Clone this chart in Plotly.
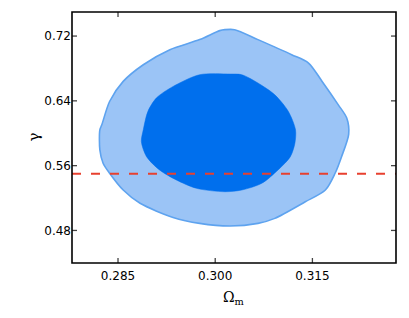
import plotly.graph_objects as go

# Outer (2-sigma) contour outline
outer_om = [0.3015, 0.3030, 0.3066, 0.3118, 0.3144, 0.3165, 0.3190, 0.3203, 0.3206,
            0.3195, 0.3185, 0.3170, 0.3139, 0.3092, 0.3066, 0.3023, 0.2976, 0.2935, 0.2884,
            0.2858, 0.2837, 0.2827, 0.2822, 0.2822, 0.2825, 0.2837, 0.2858, 0.2889, 0.2930,
            0.2976, 0.3007]
outer_gamma = [0.7279, 0.7279, 0.7156, 0.6970, 0.6867, 0.6640, 0.6351, 0.6187, 0.5990,
               0.5711, 0.5506, 0.5299, 0.5154, 0.4949, 0.4887, 0.4854, 0.4887, 0.4961, 0.5135,
               0.5299, 0.5506, 0.5630, 0.5794, 0.6042, 0.6104, 0.6392, 0.6640, 0.6846, 0.7032,
               0.7156, 0.7267]

# Inner (1-sigma) contour outline
inner_om = [0.3023, 0.3041, 0.3066, 0.3092, 0.3113, 0.3124, 0.3123, 0.3116, 0.3097, 0.3072,
            0.3041, 0.3015, 0.2971, 0.2940, 0.2914, 0.2894, 0.2886, 0.2889, 0.2896, 0.2909,
            0.2935, 0.2976]
inner_gamma = [0.6731, 0.6723, 0.6620, 0.6475, 0.6268, 0.6042, 0.5877, 0.5711, 0.5547, 0.5382,
               0.5299, 0.5278, 0.5320, 0.5423, 0.5547, 0.5711, 0.5897, 0.6042, 0.6268, 0.6434,
               0.6578, 0.6723]

gamma_gr = 0.55

x_ticks = [0.285, 0.300, 0.315]
x_ticklabels = ["0.285", "0.300", "0.315"]
y_ticks = [0.48, 0.56, 0.64, 0.72]
y_ticklabels = ["0.48", "0.56", "0.64", "0.72"]

x_range = [0.2779, 0.3279]
y_range = [0.4398, 0.7497]

W, H = 409, 318
ML, MR, MT, MB = 72, 13, 12, 55
TICK_PX = 5

fig = go.Figure()
fig.add_trace(go.Scatter(
    x=outer_om + [outer_om[0]], y=outer_gamma + [outer_gamma[0]],
    mode="lines", fill="toself", fillcolor="#9bc4f6",
    line=dict(color="#5ea3ef", width=1.6, shape="spline", smoothing=0.8),
    hoverinfo="skip", showlegend=False))
fig.add_trace(go.Scatter(
    x=inner_om + [inner_om[0]], y=inner_gamma + [inner_gamma[0]],
    mode="lines", fill="toself", fillcolor="#006fed",
    line=dict(color="#006fed", width=0.5, shape="spline", smoothing=0.8),
    hoverinfo="skip", showlegend=False))
fig.add_trace(go.Scatter(
    x=x_range, y=[gamma_gr, gamma_gr], mode="lines",
    line=dict(color="#e8402f", width=1.8, dash="9px,10px"),
    hoverinfo="skip", showlegend=False))

tfont = dict(family="DejaVu Sans", size=12, color="black")
fig.update_xaxes(range=x_range, tickvals=x_ticks, ticktext=x_ticklabels, tickfont=tfont,
                 showline=False, ticks="", showgrid=False, zeroline=False,
                 ticklabelstandoff=4)
fig.update_yaxes(range=y_range, tickvals=y_ticks, ticktext=y_ticklabels, tickfont=tfont,
                 showline=False, ticks="", showgrid=False, zeroline=False)

# tick marks on all four sides (inside), placed at the tick values
fx = TICK_PX / (W - ML - MR)
fy = TICK_PX / (H - MT - MB)
tick_line = dict(color="#444444", width=1.3)
for xv in x_ticks:
    fig.add_shape(type="line", xref="x", yref="paper", x0=xv, x1=xv, y0=0, y1=fy,
                  line=tick_line, layer="above")
    fig.add_shape(type="line", xref="x", yref="paper", x0=xv, x1=xv, y0=1, y1=1 - fy,
                  line=tick_line, layer="above")
for yv in y_ticks:
    fig.add_shape(type="line", xref="paper", yref="y", x0=0, x1=fx, y0=yv, y1=yv,
                  line=tick_line, layer="above")
    fig.add_shape(type="line", xref="paper", yref="y", x0=1, x1=1 - fx, y0=yv, y1=yv,
                  line=tick_line, layer="above")

fig.add_shape(type="rect", xref="paper", yref="paper", x0=0, x1=1, y0=0, y1=1,
              line=dict(color="black", width=1.6), fillcolor="rgba(0,0,0,0)", layer="above")

fig.add_annotation(text="Ω<sub>m</sub>", xref="paper", yref="paper", x=0.5, y=0,
                   yshift=-35, showarrow=False, yanchor="middle",
                   font=dict(family="DejaVu Serif", size=14, color="black"))
fig.add_annotation(text="γ", xref="paper", yref="paper", x=0, y=0.5,
                   xshift=-50, showarrow=False, textangle=-90,
                   font=dict(family="DejaVu Serif", size=15, color="black"))

fig.update_layout(width=W, height=H, margin=dict(l=ML, r=MR, t=MT, b=MB),
                  plot_bgcolor="white", paper_bgcolor="white", showlegend=False)

fig.write_html("out.html", config={"displayModeBar": False},
               post_script="document.body.style.margin='0';document.body.style.overflow='hidden';")
